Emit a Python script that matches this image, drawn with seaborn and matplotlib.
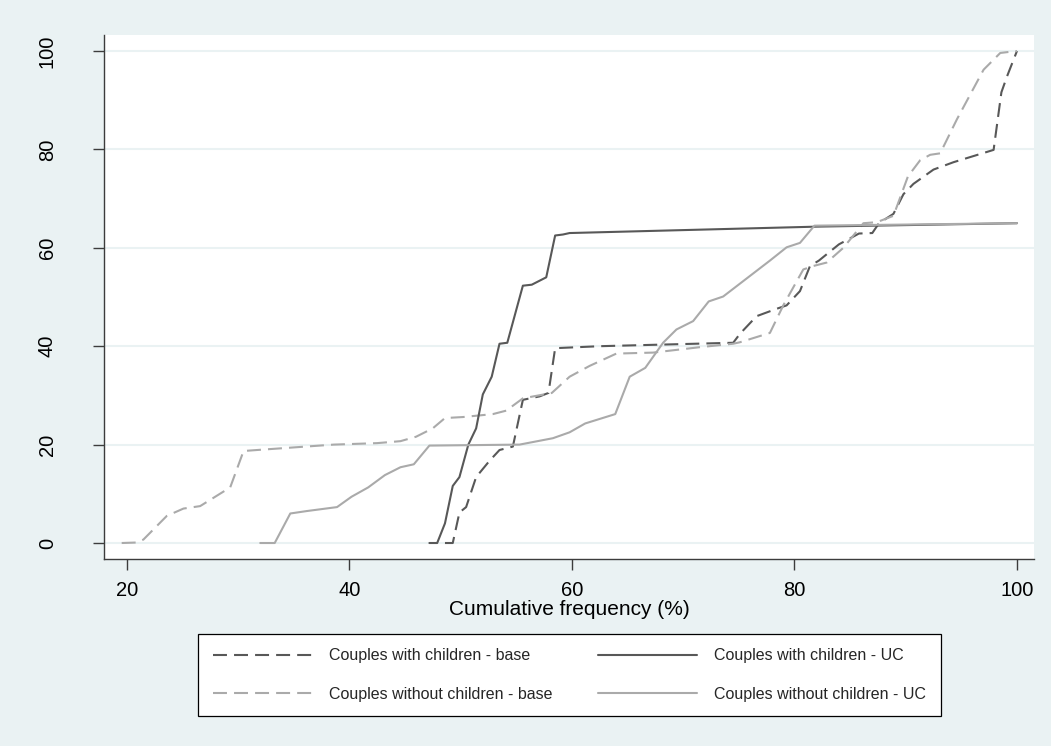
import numpy as np
import pandas as pd
import matplotlib
matplotlib.use("Agg")
import matplotlib.pyplot as plt
import seaborn as sns

sns.set_theme(style="white")
plt.rcParams['font.family'] = ['Liberation Sans', 'DejaVu Sans']

#data
with_base_x = [48.6, 49.3, 49.9, 50.5, 51.4, 52.6, 53.5, 54.7, 55.6, 57.1, 57.9, 58.5, 62.5,
               74.5, 75.1, 76.6, 78.4, 79.3, 80.5, 81.4, 82.2, 84.0, 85.8, 87.0, 87.6, 88.9,
               89.8, 90.7, 92.5, 94.3, 97.9, 98.6, 99.1, 100.0]
with_base_y = [0, 0, 6.2, 7.3, 13.4, 16.7, 18.9, 19.6, 29.1, 29.8, 30.5, 39.6, 40.0,
               40.7, 42.5, 46.1, 47.6, 48.3, 51.2, 56.3, 57.4, 60.7, 62.9, 63.0, 65.0, 66.9,
               70.9, 73.0, 75.9, 77.4, 79.9, 91.6, 94.8, 100]

with_uc_x = [47.2, 47.9, 48.6, 49.3, 49.9, 50.7, 51.4, 52.0, 52.8, 53.5, 54.2, 55.6, 56.4,
             57.7, 58.5, 59.2, 59.8, 82.0, 100.0]
with_uc_y = [0, 0, 4.0, 11.6, 13.4, 20.0, 23.3, 30.2, 33.8, 40.5, 40.7, 52.3, 52.5,
             54.0, 62.5, 62.7, 63.0, 64.3, 65.0]

without_base_x = [19.55, 20.9, 21.5, 23.6, 25.1, 26.6, 29.3, 30.5, 31.7, 38.6, 42.5, 44.6, 46.0,
                  47.5, 48.6, 50.2, 52.9, 54.1, 55.6, 58.2, 59.8, 61.6, 64.0, 67.3, 71.5, 74.5,
                  75.1, 77.8, 79.0, 80.8, 81.7, 82.9, 84.4, 86.2, 87.4, 88.9, 90.2, 91.3, 92.2,
                  93.1, 94.6, 97.0, 98.5, 100.0]
without_base_y = [0, 0.1, 0.7, 5.5, 7.0, 7.5, 11.3, 18.7, 18.9, 20.0, 20.3, 20.7, 21.6,
                  23.3, 25.4, 25.6, 26.2, 26.9, 29.4, 30.5, 33.8, 36.0, 38.5, 38.7, 39.8, 40.5,
                  40.8, 42.7, 48.3, 55.6, 56.3, 57.0, 60.0, 65.0, 65.2, 66.5, 74.5, 77.8, 78.9,
                  79.2, 86.1, 96.2, 99.6, 100]

without_uc_x = [32.0, 33.3, 34.7, 36.2, 38.9, 40.2, 41.7, 43.2, 44.6, 45.8, 47.2, 55.3, 58.3,
                59.8, 61.2, 63.9, 65.2, 66.6, 68.2, 69.4, 70.9, 72.3, 73.6, 77.8, 79.3, 80.5,
                81.8, 100.0]
without_uc_y = [0, 0, 6.0, 6.5, 7.3, 9.4, 11.3, 13.8, 15.4, 16.0, 19.8, 20.0, 21.3,
                22.5, 24.3, 26.2, 33.8, 35.6, 40.7, 43.4, 45.1, 49.1, 50.1, 57.4, 60.1, 61.0,
                64.5, 65.0]

labels = ["Couples with children - base", "Couples without children - base",
          "Couples with children - UC", "Couples without children - UC"]

bg = "#eaf2f3"
dark = "#585858"
light = "#aaaaaa"
dash = (0, (6.7, 3.4))

series = [
    (with_base_x, with_base_y, dark, dash),
    (without_base_x, without_base_y, light, dash),
    (with_uc_x, with_uc_y, dark, "-"),
    (without_uc_x, without_uc_y, light, "-"),
]

fig = plt.figure(figsize=(10.51, 7.46), dpi=100, facecolor=bg)
ax = fig.add_axes([104/1051, 1 - 559/746, 930/1051, 524/746])
ax.set_facecolor("white")

for (xs, ys, col, ls), lab in zip(series, labels):
    d = pd.DataFrame({"x": xs, "y": ys})
    sns.lineplot(data=d, x="x", y="y", ax=ax, color=col, linewidth=1.5,
                 estimator=None, sort=False, label=lab)
    ax.lines[-1].set_linestyle(ls)

ax.set_xlim(17.96, 101.53)
ax.set_ylim(-3.25, 103.25)
ax.set_xticks([20, 40, 60, 80, 100])
ax.set_yticks([0, 20, 40, 60, 80, 100])
ax.yaxis.grid(True, color=bg, linewidth=1.5)
ax.xaxis.grid(False)
ax.set_axisbelow(True)

for s in ["top", "right"]:
    ax.spines[s].set_visible(False)
for s in ["left", "bottom"]:
    ax.spines[s].set_color("#3c3c3c")
    ax.spines[s].set_linewidth(1.0)

ax.tick_params(axis="both", direction="out", length=8, width=1, color="#3c3c3c",
               labelsize=14.5, labelcolor="black", left=True, bottom=True)
ax.tick_params(axis="y", pad=26)
ax.tick_params(axis="x", pad=8)
plt.setp(ax.get_yticklabels(), rotation=90, va="center", ha="right")

ax.set_xlabel("Cumulative frequency (%)", fontsize=15, labelpad=0, color="black")
ax.set_ylabel("")

ax.get_legend().remove()
handles, labs = ax.get_legend_handles_labels()
leg = fig.legend(handles, labs, ncol=2, loc="center",
                 bbox_to_anchor=(569.5/1051, 1 - 675/746),
                 fontsize=11.5, handlelength=6.2, handletextpad=1.05,
                 columnspacing=2.9, labelspacing=1.45, borderpad=0.9,
                 frameon=True, fancybox=False, framealpha=1)
leg.get_frame().set_edgecolor("black")
leg.get_frame().set_linewidth(0.9)
leg.get_frame().set_facecolor("white")

fig.savefig("out.png", dpi=100, facecolor=bg)
